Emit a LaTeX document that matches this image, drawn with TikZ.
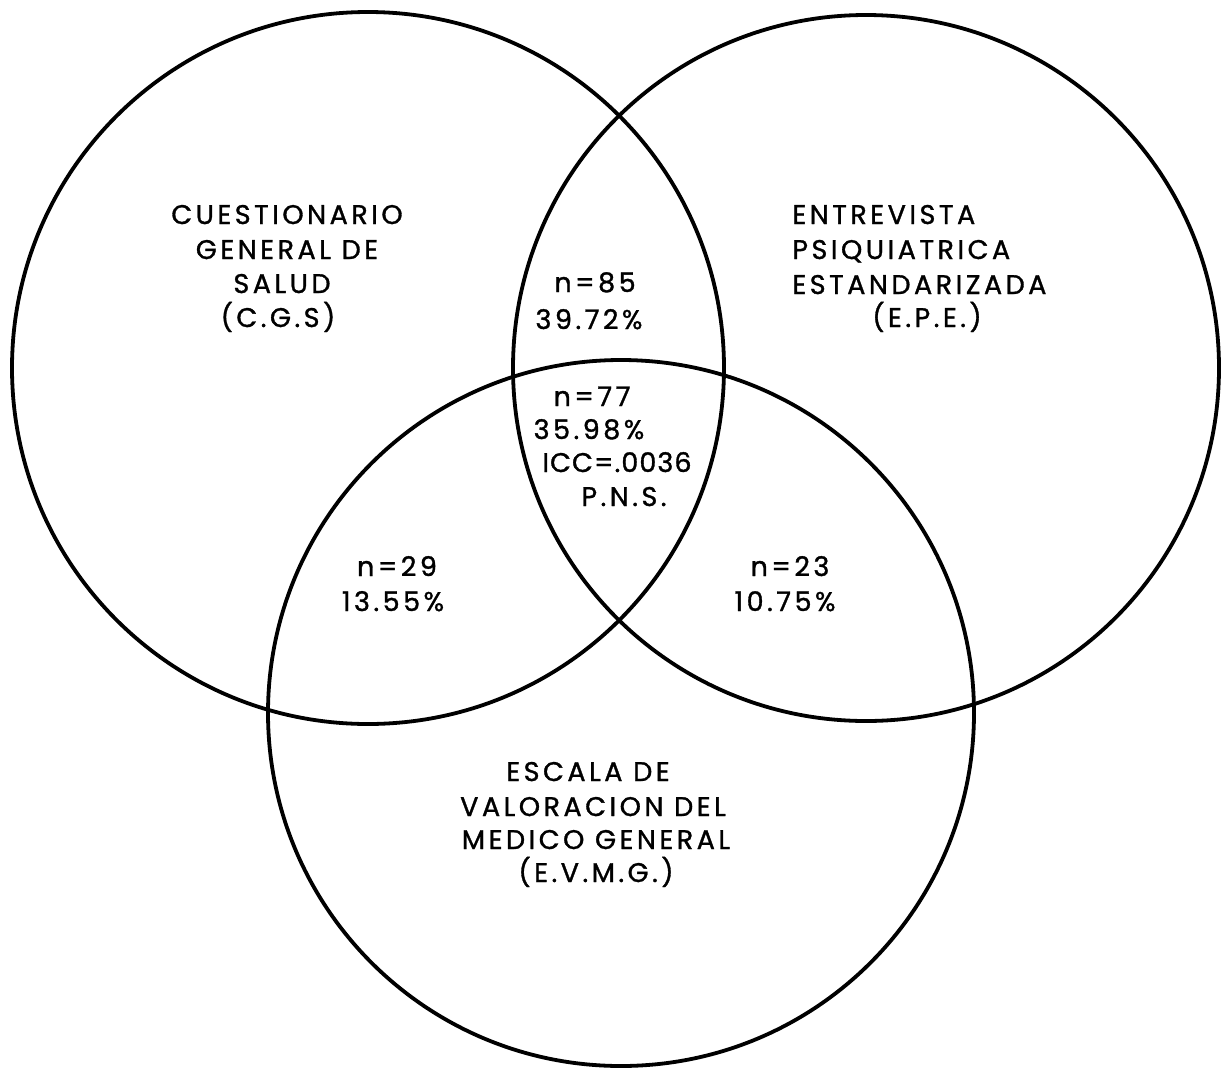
\documentclass[tikz,border=0pt]{standalone}
\usepackage{fontspec}
\setmainfont{Poppins}[LetterSpace=13,FakeBold=1.2]
\begin{document}
\begin{tikzpicture}[x=0.5pt,y=-0.5pt,
  ring/.style={line width=1.9pt,draw=black},
  lbl/.style={font=\fontsize{13.5}{16}\selectfont, inner sep=0pt, anchor=base},
  lblw/.style={lbl, anchor=base west}]
\useasboundingbox[fill=white] (0,0) rectangle (1221,1071);
% circle centres
\coordinate (cA) at (368,368);
\coordinate (cB) at (866,368);
\coordinate (cC) at (621,713);
\draw[ring] (cA) circle[radius=178pt];
\draw[ring] (cB) circle[radius=176.5pt];
\draw[ring] (cC) circle[radius=176.5pt];
% left label
\node[lbl] (a1) at (287,224) {CUESTIONARIO};
\node[lbl] (a2) at (287,259) {GENERAL DE};
\node[lbl] (a3) at (282,293) {SALUD};
\node[lbl] (a4) at (278,327) {(C.G.S)};
% right label
\node[lblw] (b1) at (792,224) {ENTREVISTA};
\node[lblw] (b2) at (792,259) {PSIQUIATRICA};
\node[lblw] (b3) at (792,294) {ESTANDARIZADA};
\node[lbl] (b4) at (927,327) {(E.P.E.)};
% bottom label
\node[lbl] (c1) at (588,781) {ESCALA DE};
\node[lbl] (c2) at (593,816) {VALORACION DEL};
\node[lbl] (c3) at (596,849) {MEDICO GENERAL};
\node[lbl] (c4) at (596,882) {(E.V.M.G.)};
% A and B
\node[lbl] (ab1) at (595,292) {n=85};
\node[lbl] (ab2) at (589,329) {39.72\%};
% A, B and C
\node[lbl] (abc1) at (592,406) {n=77};
\node[lbl] (abc2) at (589,439) {35.98\%};
\node[lbl] (abc3) at (617,472) {\addfontfeatures{LetterSpace=4}ICC=.0036};
\node[lbl] (abc4) at (624,506) {P.N.S.};
% A and C
\node[lbl] (ac1) at (397,576) {n=29};
\node[lbl] (ac2) at (393,611) {13.55\%};
% B and C
\node[lbl] (bc1) at (790,576) {n=23};
\node[lbl] (bc2) at (785,611) {10.75\%};
\end{tikzpicture}
\end{document}
